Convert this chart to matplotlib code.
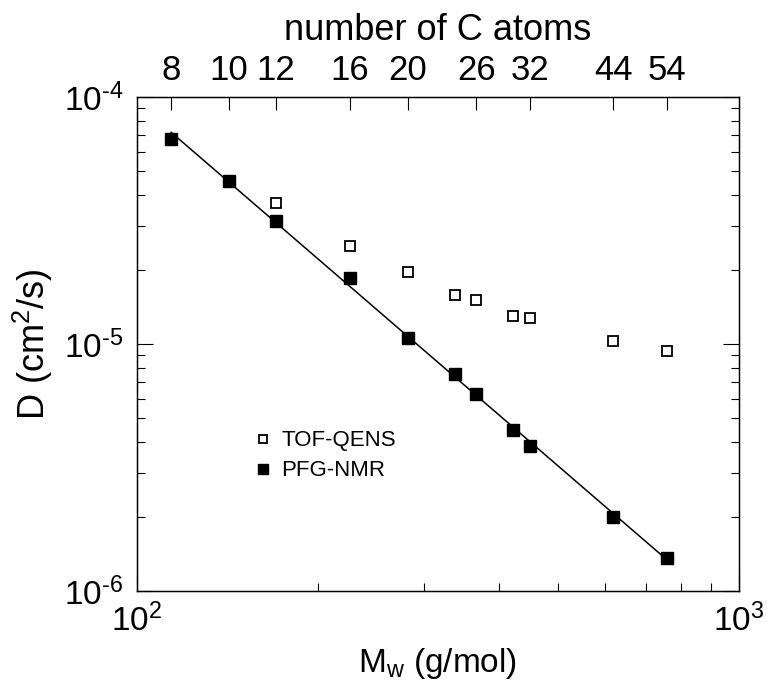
import matplotlib
matplotlib.use("Agg")
import matplotlib.pyplot as plt
import matplotlib.ticker as mticker
import numpy as np

plt.rcParams['font.family'] = ['Liberation Sans', 'DejaVu Sans']
plt.rcParams['mathtext.fontset'] = 'custom'
plt.rcParams['mathtext.rm'] = 'Liberation Sans'
plt.rcParams['mathtext.it'] = 'Liberation Sans:italic'
plt.rcParams['axes.unicode_minus'] = False

# molar mass of n-alkanes (g/mol) and diffusion coefficients (cm^2/s)
mw_pfg = [114, 142, 170, 226, 282, 338, 366, 422, 450, 618, 758]
d_pfg = [6.76e-5, 4.56e-5, 3.15e-5, 1.85e-5, 1.06e-5, 7.56e-6, 6.28e-6,
         4.49e-6, 3.88e-6, 2.0e-6, 1.36e-6]

mw_tof = [170, 226, 282, 338, 366, 422, 450, 618, 758]
d_tof = [3.73e-5, 2.50e-5, 1.96e-5, 1.58e-5, 1.51e-5, 1.30e-5, 1.28e-5,
         1.03e-5, 9.41e-6]

# top axis: number of carbon atoms
n_carbon = [8, 10, 12, 16, 20, 26, 32, 44, 54]
mw_carbon = [14 * n + 2 for n in n_carbon]


def pow10(v, pos):
    e = int(round(np.log10(v)))
    s = str(e).replace('-', r'\text{-}')
    return r'$10^{%s}$' % s


fig = plt.figure(figsize=(7.67, 6.82), dpi=100)
ax = fig.add_axes([0.1786, 0.1334, 0.7849, 0.7244])

# power law fit to PFG-NMR
p = np.polyfit(np.log10(mw_pfg), np.log10(d_pfg), 1)
xf = np.array([mw_pfg[0], 775])
ax.plot(xf, 10 ** np.polyval(p, np.log10(xf)), color='black', lw=1.1, zorder=2)

ax.plot(mw_tof, d_tof, 's', ms=7, mfc='white', mec='black', mew=1.3,
        ls='none', label='TOF-QENS', zorder=3)
ax.plot(mw_pfg, d_pfg, 's', ms=8.5, mfc='black', mec='black',
        ls='none', label='PFG-NMR', zorder=3)

ax.set_xscale('log')
ax.set_yscale('log')
ax.set_xlim(100, 1000)
ax.set_ylim(1e-6, 1e-4)
ax.xaxis.set_major_formatter(mticker.FuncFormatter(pow10))
ax.yaxis.set_major_formatter(mticker.FuncFormatter(pow10))
ax.xaxis.set_minor_formatter(mticker.NullFormatter())
ax.yaxis.set_minor_formatter(mticker.NullFormatter())

ax.tick_params(which='both', direction='in', right=True, top=False,
               labelsize=24, width=0.8, pad=9)
ax.tick_params(which='major', length=11.5)
ax.tick_params(which='minor', length=5.8)
ax.tick_params(axis='y', which='major', pad=10)
for s in ax.spines.values():
    s.set_linewidth(1.0)

ax.set_xlabel(r'M$_\mathrm{w}$ (g/mol)', fontsize=24, labelpad=6)
ax.set_ylabel(r'D (cm$^2$/s)', fontsize=26, labelpad=6)

leg = ax.legend(loc='upper left', bbox_to_anchor=(0.195, 0.325), frameon=False,
                fontsize=16, handlelength=0.8, handletextpad=0.4,
                labelspacing=0.4, borderpad=0, borderaxespad=0,
                markerscale=0.85)

ax2 = ax.twiny()
ax2.set_xscale('log')
ax2.set_xlim(ax.get_xlim())
ax2.set_xticks(mw_carbon)
ax2.set_xticklabels([str(n) for n in n_carbon])
ax2.xaxis.set_minor_locator(mticker.NullLocator())
ax2.tick_params(axis='x', direction='in', length=9.5, width=0.8,
                labelsize=25, pad=7)
ax2.set_xlabel('number of C atoms', fontsize=26, labelpad=10)

fig.savefig('out.png', dpi=100)
